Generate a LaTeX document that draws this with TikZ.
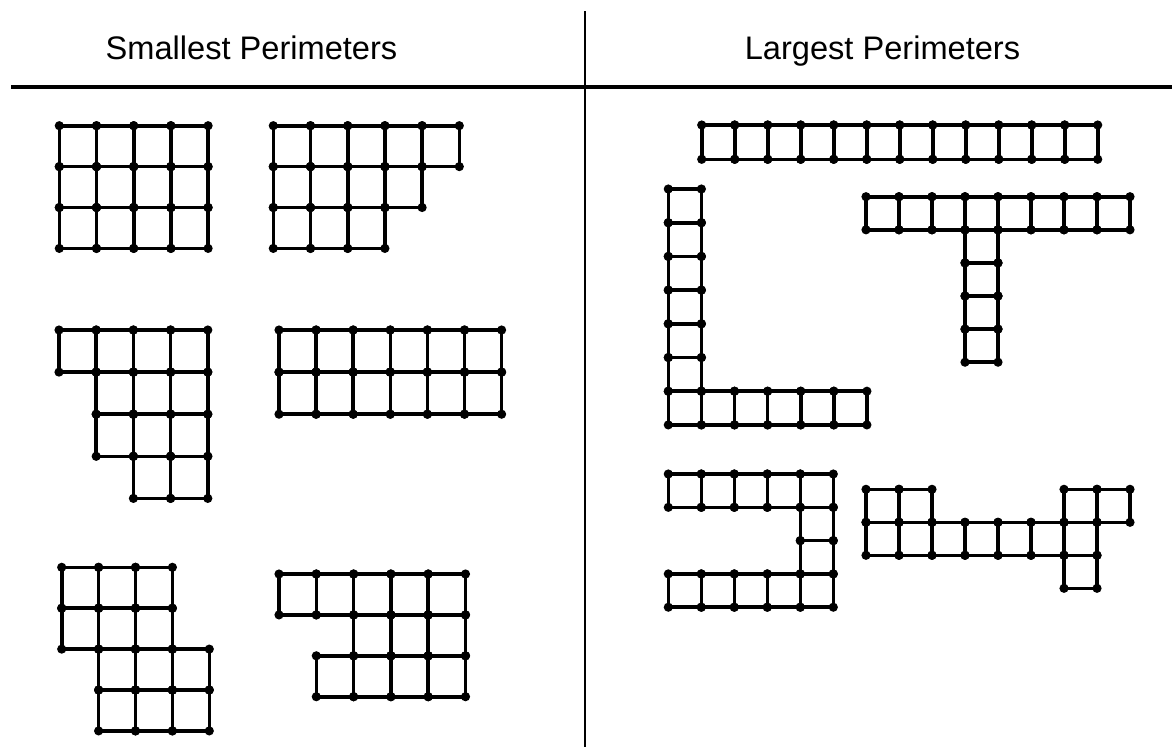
\documentclass[tikz,border=0pt]{standalone}
\usepackage{fontspec}
\setmainfont{Liberation Sans}
\usetikzlibrary{positioning}

\tikzset{
    gridline/.style={line width=3.6pt},
    heading/.style={anchor=base, font=\fontsize{32.6}{38}\selectfont},
}
\newcommand{\cellsq}[2]{%
    \draw[gridline] (#1,#2) rectangle ++(1,1);
    \foreach \dx in {0,1} \foreach \dy in {0,1} \fill (#1+\dx,#2+\dy) circle (4.6pt);
}

\begin{document}
\begin{tikzpicture}[x=1pt, y=-1pt]
    \useasboundingbox (0,0) rectangle (1172,747);

    \node[heading] (smallest) at (251.5,59.3) {Smallest Perimeters};
    \node[heading] (largest) at (882.5,59.3) {Largest Perimeters};
    \coordinate (ruleL) at (11,87);
    \coordinate (ruleR) at (1172,87);
    \coordinate (divT) at (585,11);
    \coordinate (divB) at (585,747);
    \draw[line width=3.3pt] (ruleL) -- (ruleR);
    \draw[line width=2.7pt] (divT) -- (divB);

    % smallest perimeters
    \begin{scope}[shift={(59.3,125.7)}, x=37.2pt, y=-40.9pt]
        \foreach \r in {0,1,2} \foreach \c in {0,...,3} \cellsq{\c}{\r};
    \end{scope}
    \begin{scope}[shift={(273.3,125.7)}, x=37.2pt, y=-40.9pt]
        \foreach \c in {0,...,4} \cellsq{\c}{0};
        \foreach \c in {0,...,3} \cellsq{\c}{1};
        \foreach \c in {0,...,2} \cellsq{\c}{2};
    \end{scope}
    \begin{scope}[shift={(59,330)}, x=37.2pt, y=-42.1pt]
        \foreach \c in {0,...,3} \cellsq{\c}{0};
        \foreach \r in {1,2} \foreach \c in {1,...,3} \cellsq{\c}{\r};
        \foreach \c in {2,3} \cellsq{\c}{3};
    \end{scope}
    \begin{scope}[shift={(279,330)}, x=37.1pt, y=-42.1pt]
        \foreach \r in {0,1} \foreach \c in {0,...,5} \cellsq{\c}{\r};
    \end{scope}
    \begin{scope}[shift={(61.7,567.3)}, x=36.9pt, y=-40.9pt]
        \foreach \r in {0,1} \foreach \c in {0,...,2} \cellsq{\c}{\r};
        \foreach \r in {2,3} \foreach \c in {1,...,3} \cellsq{\c}{\r};
    \end{scope}
    \begin{scope}[shift={(279,574)}, x=37.3pt, y=-40.9pt]
        \foreach \c in {0,...,4} \cellsq{\c}{0};
        \foreach \c in {2,...,4} \cellsq{\c}{1};
        \foreach \c in {1,...,4} \cellsq{\c}{2};
    \end{scope}

    % largest perimeters
    \begin{scope}[shift={(701.7,125)}, x=33pt, y=-34.3pt]
        \foreach \c in {0,...,11} \cellsq{\c}{0};
    \end{scope}
    \begin{scope}[shift={(668.3,189)}, x=33.1pt, y=-33.7pt]
        \foreach \r in {0,...,6} \cellsq{0}{\r};
        \foreach \c in {1,...,5} \cellsq{\c}{6};
    \end{scope}
    \begin{scope}[shift={(866,196.7)}, x=33pt, y=-33.1pt]
        \foreach \c in {0,...,7} \cellsq{\c}{0};
        \foreach \r in {1,...,4} \cellsq{3}{\r};
    \end{scope}
    \begin{scope}[shift={(668.3,474)}, x=33pt, y=-33.3pt]
        \foreach \c in {0,...,4} \cellsq{\c}{0};
        \foreach \r in {1,2} \cellsq{4}{\r};
        \foreach \c in {0,...,4} \cellsq{\c}{3};
    \end{scope}
    \begin{scope}[shift={(866,489.3)}, x=33pt, y=-33pt]
        \foreach \c in {0,1,6,7} \cellsq{\c}{0};
        \foreach \c in {0,...,6} \cellsq{\c}{1};
        \cellsq{6}{2};
    \end{scope}
\end{tikzpicture}
\end{document}
